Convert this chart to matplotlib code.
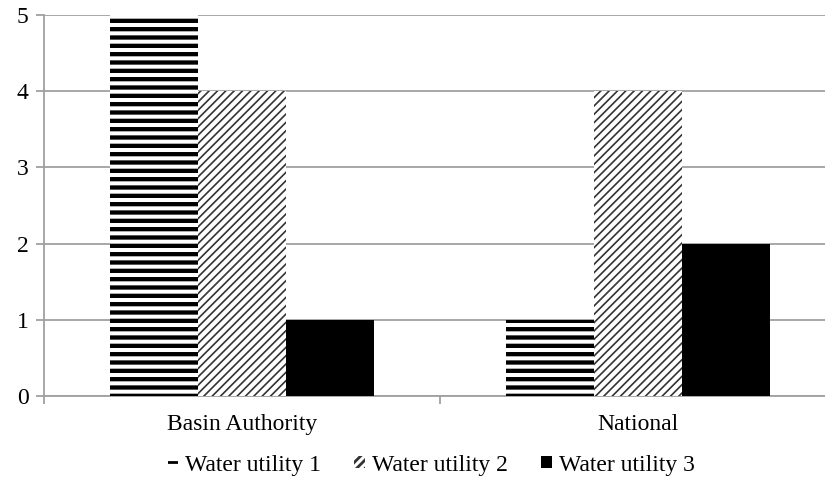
import matplotlib
matplotlib.use("Agg")
import matplotlib.pyplot as plt
import numpy as np

categories = ["Basin Authority", "National"]
series_names = ["Water utility 1", "Water utility 2", "Water utility 3"]
utility1 = [5, 1]
utility2 = [4, 4]
utility3 = [1, 2]
y_ticks = [0, 1, 2, 3, 4, 5]

plt.rcParams['font.family'] = ['Liberation Serif', 'DejaVu Serif']

fig = plt.figure(figsize=(8.25, 4.86), dpi=100)
ax = fig.add_axes([44/825, 1-396/486, 792/825, (396-15)/486])

x = np.arange(len(categories))
w = 88/396
styles = [
    dict(hatch='--', lw_h=3.1, color='white', ec='black'),
    dict(hatch='////', lw_h=1.2, color='white', ec='#333333'),
    dict(hatch=None, lw_h=1.0, color='black', ec='black'),
]
vals = [utility1, utility2, utility3]
handles = []
for i, (v, st) in enumerate(zip(vals, styles)):
    with plt.rc_context({'hatch.linewidth': st['lw_h']}):
        b = ax.bar(x + (i-1)*w, v, width=w, color=st['color'], edgecolor=st['ec'],
                   linewidth=0, hatch=st['hatch'], label=series_names[i], zorder=3)
    handles.append(b)

ax.set_xlim(-0.5, 1.5)
ax.set_ylim(0, 5)
ax.set_yticks(y_ticks)
ax.yaxis.grid(True, color='#a0a0a0', linewidth=1.3, zorder=0)
ax.set_axisbelow(True)
for s in ['top', 'right']:
    ax.spines[s].set_visible(False)
for s in ['left', 'bottom']:
    ax.spines[s].set_color('#a0a0a0')
    ax.spines[s].set_linewidth(1.3)
ax.tick_params(axis='y', length=6, width=1.3, color='#a0a0a0', labelsize=17, pad=5)
ax.set_xticks(x)
ax.set_xticklabels(categories)
ax.set_xticks([-0.5, 0.5, 1.5], minor=True)
ax.tick_params(axis='x', which='major', length=0, labelsize=17, pad=13)
ax.tick_params(axis='x', which='minor', length=6, width=1.3, color='#a0a0a0')

with plt.rc_context({'hatch.linewidth': 2.0}):
    leg = fig.legend(handles=handles, labels=series_names, loc='center', bbox_to_anchor=(431/825, 1-465/486),
                     ncol=3, frameon=False, fontsize=17, handlelength=0.45, handleheight=0.45,
                     handletextpad=0.3, columnspacing=1.4)

fig.savefig("out.png", dpi=100)
